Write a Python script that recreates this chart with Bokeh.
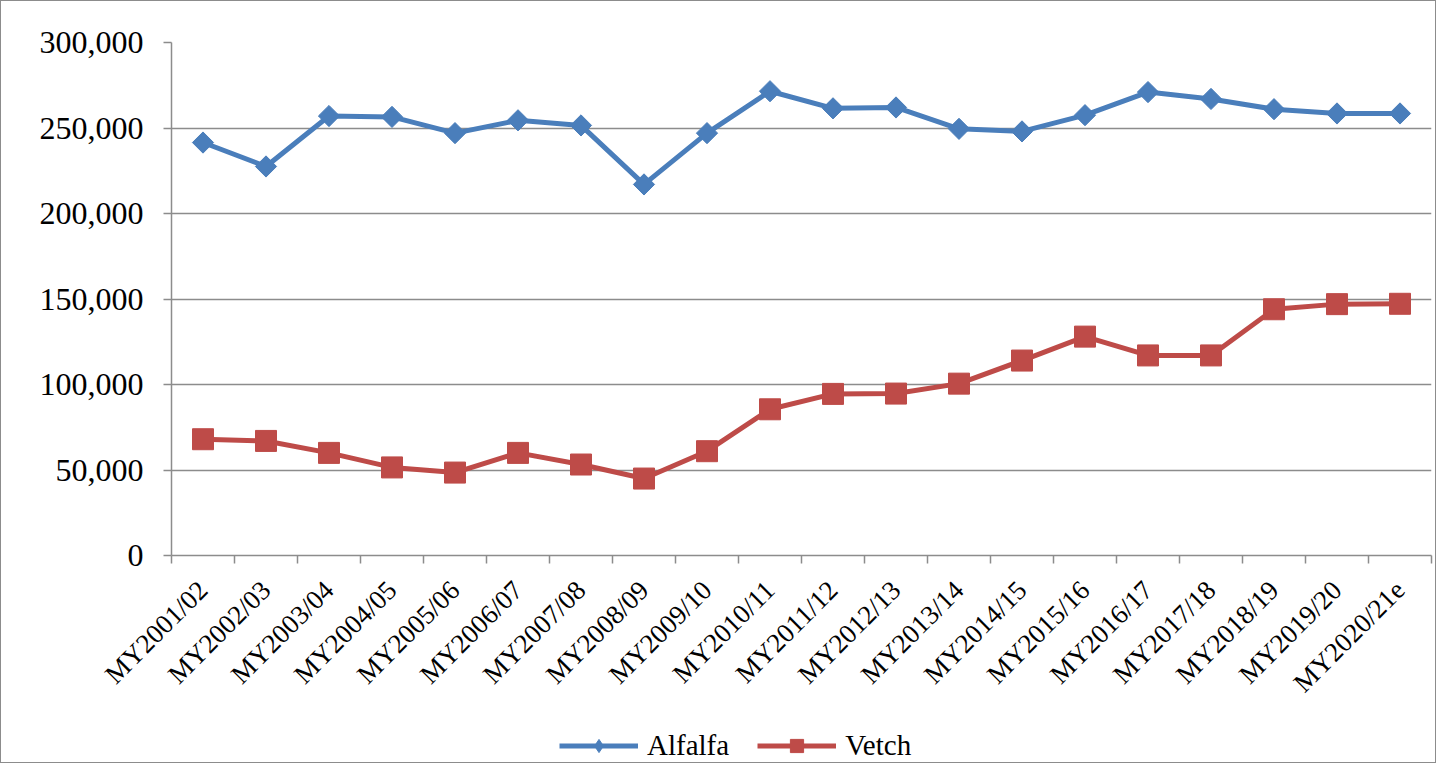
import math
from bokeh.plotting import figure
from bokeh.layouts import column
from bokeh.models import ColumnDataSource, FixedTicker, NumeralTickFormatter, Legend, LegendItem, Range1d
from bokeh.embed import file_html
from bokeh.resources import INLINE

categories = ["MY2001/02", "MY2002/03", "MY2003/04", "MY2004/05", "MY2005/06", "MY2006/07",
              "MY2007/08", "MY2008/09", "MY2009/10", "MY2010/11", "MY2011/12", "MY2012/13",
              "MY2013/14", "MY2014/15", "MY2015/16", "MY2016/17", "MY2017/18", "MY2018/19",
              "MY2019/20", "MY2020/21e"]
alfalfa = [241500, 227500, 257000, 256500, 247000, 254500, 251500, 217000, 247000, 271500,
           261500, 262000, 249500, 248000, 257500, 271000, 267000, 261000, 258500, 258500]
vetch = [68000, 67000, 60000, 51500, 48500, 60000, 53200, 45000, 61000, 85500,
         94500, 94700, 100500, 114000, 128000, 117000, 117000, 144000, 147000, 147200]
y_ticks = [0, 50000, 100000, 150000, 200000, 250000, 300000]
series_names = ["Alfalfa", "Vetch"]

xpos = [i + 0.5 for i in range(len(categories))]
src = ColumnDataSource(dict(x=xpos, cat=categories, alfalfa=alfalfa, vetch=vetch))

FONT = "Liberation Serif"
GRID = "#8c8c8c"
BLUE = "#4a7ebb"
RED = "#be4b48"

p = figure(width=1434, height=712, output_backend="svg", toolbar_location=None,
           x_range=Range1d(0, len(categories)), y_range=Range1d(0, 300000),
           min_border_left=170, min_border_right=4, min_border_top=41, min_border_bottom=158)
p.outline_line_color = None

p.xgrid.visible = False
p.ygrid.ticker = FixedTicker(ticks=y_ticks)
p.ygrid.grid_line_color = GRID
p.ygrid.grid_line_width = 1.5

ya = p.yaxis[0]
ya.ticker = FixedTicker(ticks=y_ticks)
ya.formatter = NumeralTickFormatter(format="0,0")
ya.major_label_text_font = FONT
ya.major_label_text_font_size = "32px"
ya.major_label_text_color = "black"
ya.axis_line_color = GRID
ya.axis_line_width = 1.5
ya.major_tick_line_color = GRID
ya.major_tick_line_width = 1.5
ya.major_tick_out = 8
ya.major_tick_in = 0
ya.minor_tick_line_color = None
ya.major_label_standoff = 20

xa = p.xaxis[0]
xa.ticker = FixedTicker(ticks=xpos, minor_ticks=list(range(len(categories) + 1)))
xa.major_label_overrides = {x: c for x, c in zip(xpos, categories)}
xa.major_label_orientation = math.pi / 4
xa.major_label_text_font = FONT
xa.major_label_text_font_size = "27px"
xa.major_label_text_color = "black"
xa.major_tick_line_color = None
xa.major_tick_out = 0
xa.major_tick_in = 0
xa.minor_tick_line_color = GRID
xa.minor_tick_line_width = 1.5
xa.minor_tick_out = 8
xa.minor_tick_in = 0
xa.axis_line_color = GRID
xa.axis_line_width = 1.5
xa.major_label_standoff = 22

p.line("x", "alfalfa", source=src, line_color=BLUE, line_width=5)
p.scatter("x", "alfalfa", source=src, marker="square", angle=math.pi / 4, size=15,
          fill_color=BLUE, line_color=BLUE)
p.line("x", "vetch", source=src, line_color=RED, line_width=5)
p.scatter("x", "vetch", source=src, marker="square", size=21, fill_color=RED, line_color=RED)

# legend strip below the chart (its renderers use the same data, out of this strip's view)
p2 = figure(width=1434, height=49, output_backend="svg", toolbar_location=None,
            x_range=Range1d(0, 1), y_range=Range1d(0, 1),
            min_border_left=0, min_border_right=0, min_border_top=0, min_border_bottom=0)
p2.axis.visible = False
p2.grid.visible = False
p2.outline_line_color = None
la = p2.line("x", "alfalfa", source=src, line_color=BLUE, line_width=5)
ma = p2.scatter("x", "alfalfa", source=src, marker="diamond", size=20,
                fill_color=BLUE, line_color=BLUE)
lv = p2.line("x", "vetch", source=src, line_color=RED, line_width=5)
mv = p2.scatter("x", "vetch", source=src, marker="square", size=21, fill_color=RED, line_color=RED)

legend = Legend(items=[LegendItem(label=series_names[0], renderers=[la, ma]),
                       LegendItem(label=series_names[1], renderers=[lv, mv])],
                orientation="horizontal", location=(388, 0),
                glyph_width=79, glyph_height=33, label_text_font=FONT,
                label_text_font_size="29px", label_text_color="black",
                border_line_color=None, background_fill_alpha=0,
                spacing=28, label_standoff=9, padding=0, margin=0)
p2.add_layout(legend, "center")

layout = column(p, p2, spacing=0, styles={"border": "1px solid #8c8c8c"})

open("out.html", "w").write(file_html(layout, INLINE))
